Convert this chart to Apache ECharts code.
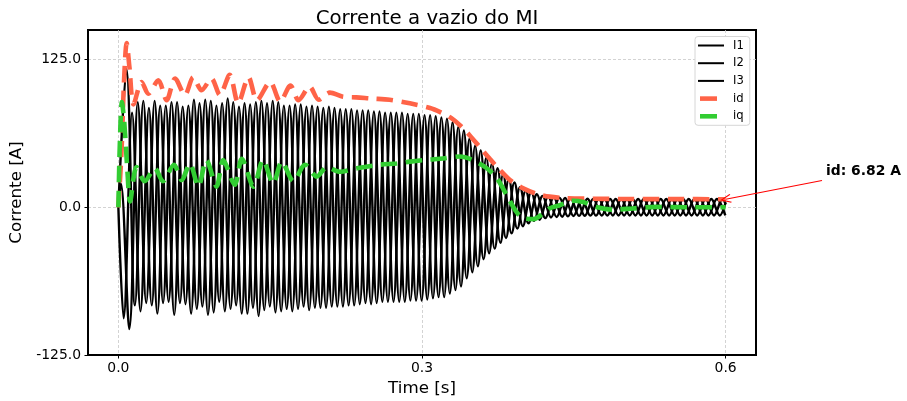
<!DOCTYPE html>
<html>
<head>
<meta charset="utf-8">
<script src="https://cdn.jsdelivr.net/npm/echarts@6/dist/echarts.min.js"></script>
<style>
  html, body { margin: 0; padding: 0; background: #fff; }
  #chart { width: 907px; height: 401px; }
</style>
</head>
<body>
<div id="chart"></div>
<script>
// Supply frequency of the stator currents [Hz] and simulation end time [s]
const supplyFrequency = 60;
const endTime = 0.6;

// Time of the first current extremum of each phase [s]; after that one extremum every half cycle
const phaseStartTimes = [0.008, 0.0052, 0.0025];

// Successive peak / trough values of each phase current [A]
const i1Extrema = [
  117, -83, 90, -83, 86, -80, 89, -82, 91, -84,
  90, -80, 92, -83, 88, -85, 90, -84, 89, -86,
  87, -84, 86, -85, 85, -84, 83, -83, 82, -82,
  81, -80, 80, -80, 79, -79, 78, -76, 75, -70,
  65, -55, 48, -39, 33, -26, 21, -16, 13, -10.5,
  9, -8.2, 7.8, -7.4, 7.3, -7.1, 7.1, -7, 7, -6.9,
  7, -6.9, 7, -6.9, 7, -6.9, 7, -6.9, 7, -6.9,
  7, -6.9
];
const i2Extrema = [
  -94, 80, -88, 84, -90, 86, -91, 85, -90, 88,
  -91, 86, -88, 89, -90, 87, -92, 88, -89, 86,
  -88, 87, -87, 85, -85, 84, -84, 83, -82, 82,
  -81, 80, -80, 80, -79, 79, -78, 77, -76, 72,
  -67, 58, -50, 42, -35, 28, -22, 17, -13.5, 11,
  -9.2, 8.4, -8, 7.6, -7.3, 7.2, -7.1, 7, -6.9, 7,
  -6.9, 7, -6.9, 7, -6.9, 7, -6.9, 7, -6.9, 7,
  -6.9, 7
];
const i3Extrema = [
  20, -103, 89, -81, 90, -81, 89, -81, 86, -86,
  91, -89, 88, -86, 85, -90, 89, -87, 90, -88,
  86, -86, 85, -85, 84, -84, 83, -83, 82, -81,
  81, -80, 80, -80, 79, -79, 78, -77, 76, -73,
  68, -60, 52, -44, 37, -30, 24, -18, 14, -11.5,
  9.6, -8.6, 8.1, -7.7, 7.4, -7.2, 7.1, -7, 7, -6.9,
  7, -6.9, 7, -6.9, 7, -6.9, 7, -6.9, 7, -6.9,
  7, -6.9
];
// Phase current values at the end of the simulation [A]
const phaseEndValues = [null, 2.7, 4.0];

// Direct-axis current id [A]
const idTime = [
  0, 0.003, 0.0055, 0.0082, 0.011, 0.015, 0.023, 0.0296, 0.0395, 0.0477,
  0.056, 0.0658, 0.074, 0.0822, 0.092, 0.1003, 0.110, 0.1184, 0.1286, 0.137,
  0.15, 0.16, 0.17, 0.178, 0.189, 0.198, 0.209, 0.222, 0.235, 0.25,
  0.268, 0.288, 0.308, 0.318, 0.328, 0.338, 0.347, 0.357, 0.367, 0.377,
  0.387, 0.40, 0.413, 0.426, 0.44, 0.46, 0.50, 0.55, 0.60
];
const idValue = [
  0, 45, 105, 139, 118, 87, 106, 96, 107.5, 90.6,
  109, 95, 110, 99, 109, 95, 112, 88, 110, 90.6,
  106, 89.5, 103, 90.6, 102, 91, 97, 93.5, 93, 92,
  91, 88, 84, 80.5, 76, 69, 61, 51, 41, 31.5,
  23, 16, 11.5, 9, 7.8, 7.3, 7.0, 6.9, 6.82
];

// Quadrature-axis current iq [A]
const iqTime = [
  0, 0.0015, 0.0035, 0.006, 0.009, 0.0115, 0.018, 0.026, 0.036, 0.044,
  0.055, 0.0625, 0.0707, 0.079, 0.087, 0.097, 0.1036, 0.115, 0.122, 0.1336,
  0.143, 0.153, 0.1615, 0.173, 0.1845, 0.196, 0.206, 0.219, 0.2355, 0.2585,
  0.275, 0.288, 0.303, 0.318, 0.3375, 0.35, 0.364, 0.374, 0.3836, 0.393,
  0.40, 0.41, 0.42, 0.426, 0.436, 0.449, 0.459, 0.472, 0.489, 0.508,
  0.531, 0.564, 0.60
];
const iqValue = [
  0, 55, 89, 70, 30, 5, 34, 22, 33, 22,
  36, 23, 37, 17.5, 40, 17.5, 40, 19, 41, 17.5,
  40, 20, 38.6, 22, 36, 26, 34, 30, 33, 36,
  37, 38.6, 40, 41, 43, 40, 33, 24.5, 10.4, -3.6,
  -9.3, -10, -5, -1, 1.7, 5.5, 4.5, 0.3, -2, -1,
  0.3, 0, 0
];

// Axis ticks
const xTicks = [0, 0.3, 0.6];
const yTicks = [-125, 0, 125];

const halfPeriod = 1 / (2 * supplyFrequency);

function phaseSeriesData(startTime, extrema, endValue) {
  const pts = [[0, 0]];
  extrema.forEach((v, k) => pts.push([startTime + k * halfPeriod, v]));
  if (endValue != null) pts.push([endTime, endValue]);
  return pts;
}
function pairs(t, v) {
  return t.map((x, i) => [x, v[i]]);
}

const font = 'DejaVu Sans';
const thinIcon = 'path://M0,0M30,14M0,6H26V8H0Z';
const thickIcon = 'path://M0,0M30,14M2,4.7H19V9.3H2Z';
const arrowHead = 'path://M0,0L5,11L4,11.8L0,2.8L-4,11.8L-5,11Z';

const lastIdTime = idTime[idTime.length - 1];
const lastId = idValue[idValue.length - 1];

const phaseNames = ['I1', 'I2', 'I3'];
const phaseExtrema = [i1Extrema, i2Extrema, i3Extrema];

const phaseSeries = phaseNames.map((name, p) => ({
  name: name,
  type: 'line',
  data: phaseSeriesData(phaseStartTimes[p], phaseExtrema[p], phaseEndValues[p]),
  smooth: 0.36,
  showSymbol: false,
  symbol: 'none',
  color: '#000',
  lineStyle: { color: '#000', width: 2.4, join: 'round' },
  z: 2
}));

const dashed = [16.5, 8.5];

const option = {
  animation: false,
  backgroundColor: '#fff',
  textStyle: { fontFamily: font },
  title: {
    text: 'Corrente a vazio do MI',
    left: 422,
    top: 4,
    textAlign: 'center',
    textStyle: { fontSize: 19.8, fontWeight: 'normal', color: '#000', fontFamily: font }
  },
  grid: {
    left: 88, top: 30, width: 668, height: 325,
    show: true, borderColor: '#000', borderWidth: 2,
    outerBoundsMode: 'none'
  },
  legend: {
    orient: 'vertical',
    left: 695, top: 36.5,
    padding: [2, 6, 2, 3],
    itemGap: 3.7, itemWidth: 30, itemHeight: 14,
    backgroundColor: '#fff', borderColor: '#d6d6d6', borderWidth: 1, borderRadius: 3,
    selectedMode: false,
    itemStyle: { borderWidth: 0 },
    textStyle: { fontSize: 11.6, color: '#000', fontFamily: font },
    data: [
      { name: 'I1', icon: thinIcon },
      { name: 'I2', icon: thinIcon },
      { name: 'I3', icon: thinIcon },
      { name: 'id', icon: thickIcon },
      { name: 'iq', icon: thickIcon }
    ]
  },
  xAxis: {
    type: 'value', min: -0.03, max: 0.63,
    name: 'Time [s]', nameLocation: 'middle', nameGap: 21,
    nameTextStyle: { fontSize: 16.7, color: '#000', fontFamily: font },
    axisLine: { show: true, onZero: false, lineStyle: { color: '#000', width: 2 } },
    axisTick: { show: true, inside: false, length: 3.5, customValues: xTicks, lineStyle: { color: '#000', width: 1 } },
    axisLabel: { customValues: xTicks, formatter: v => v.toFixed(1), margin: 6, fontSize: 13.9, color: '#000', fontFamily: font },
    splitLine: { show: true, lineStyle: { color: '#c8c8c8', width: 0.8, type: [3, 2] } }
  },
  yAxis: {
    type: 'value', min: -125, max: 150,
    name: 'Corrente [A]', nameLocation: 'middle', nameGap: 50,
    nameTextStyle: { fontSize: 16.7, color: '#000', fontFamily: font },
    axisLine: { show: true, onZero: false, lineStyle: { color: '#000', width: 2 } },
    axisTick: { show: true, inside: false, length: 3.5, customValues: yTicks, lineStyle: { color: '#000', width: 1 } },
    axisLabel: { customValues: yTicks, formatter: v => v.toFixed(1), margin: 7, fontSize: 13.9, color: '#000', fontFamily: font },
    splitLine: { show: true, lineStyle: { color: '#c8c8c8', width: 0.8, type: [3, 2] } }
  },
  series: phaseSeries.concat([
    {
      name: 'id',
      type: 'line',
      data: pairs(idTime, idValue),
      smooth: 0.3,
      showSymbol: false,
      symbol: 'none',
      color: '#ff6347',
      lineStyle: { color: '#ff6347', width: 4.6, type: dashed, cap: 'butt' },
      z: 3,
      markLine: {
        silent: true,
        animation: false,
        symbol: [arrowHead, 'none'],
        symbolSize: [9, 11],
        label: { show: false },
        emphasis: { disabled: true },
        lineStyle: { color: '#ff0000', width: 1.1, type: 'solid' },
        data: [[
          { coord: [lastIdTime, lastId] },
          { x: 822, y: 180.5 }
        ]]
      }
    },
    {
      name: 'iq',
      type: 'line',
      data: pairs(iqTime, iqValue),
      smooth: 0.3,
      showSymbol: false,
      symbol: 'none',
      color: '#32cd32',
      lineStyle: { color: '#32cd32', width: 4.6, type: dashed, cap: 'butt' },
      z: 4
    }
  ]),
  graphic: [{
    type: 'text',
    x: 826, y: 171,
    style: {
      text: 'id: ' + lastId.toFixed(2) + ' A',
      font: 'bold 13.9px "DejaVu Sans"',
      fill: '#000',
      verticalAlign: 'middle'
    }
  }]
};

const chart = echarts.init(document.getElementById('chart'), null, { renderer: 'canvas' });
chart.setOption(option);
</script>
</body>
</html>
